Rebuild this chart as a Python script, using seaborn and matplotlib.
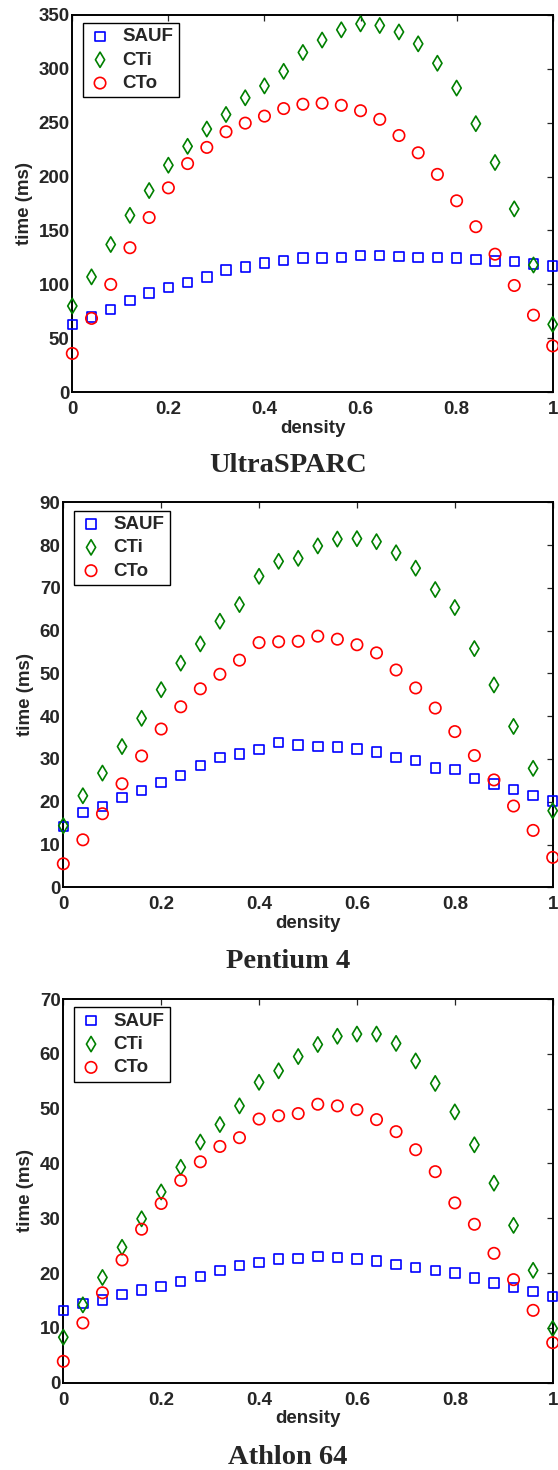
import numpy as np
import matplotlib
matplotlib.use("Agg")
import matplotlib.pyplot as plt
import seaborn as sns

density = [0.00, 0.04, 0.08, 0.12, 0.16, 0.20, 0.24, 0.28, 0.32, 0.36, 0.40, 0.44, 0.48,
           0.52, 0.56, 0.60, 0.64, 0.68, 0.72, 0.76, 0.80, 0.84, 0.88, 0.92, 0.96, 1.00]

# UltraSPARC
us_sauf = [63, 70, 77, 85, 92, 97, 102, 107, 113.5, 116, 120, 122, 124.5,
           124.5, 125, 127, 127, 126, 125, 125, 124.5, 123, 121.5, 121, 119, 117]
us_cti = [80, 107, 137, 164, 187, 210.5, 228, 244, 257.5, 273, 284, 297.5, 315,
          326.5, 336, 341.5, 340, 334, 323, 305, 282, 249, 213, 170, 118, 63]
us_cto = [36, 68.5, 100, 134, 162, 189.5, 212, 227, 241.5, 249.5, 256, 263, 267,
          268, 266, 261, 253, 238, 222, 202, 177.5, 153.5, 128, 99, 71.5, 43]

# Pentium 4
p4_sauf = [14.2, 17.5, 18.9, 21.0, 22.6, 24.5, 26.2, 28.5, 30.3, 31.2, 32.2, 33.8, 33.3,
           32.9, 32.8, 32.3, 31.6, 30.3, 29.6, 27.9, 27.5, 25.4, 24.1, 22.8, 21.4, 20.2]
p4_cti = [14.4, 21.4, 26.7, 32.9, 39.5, 46.2, 52.4, 56.9, 62.2, 66.1, 72.7, 76.2, 76.9,
          79.8, 81.4, 81.5, 80.8, 78.2, 74.6, 69.6, 65.4, 55.8, 47.3, 37.6, 27.8, 17.9]
p4_cto = [5.5, 11.1, 17.2, 24.2, 30.7, 37.0, 42.2, 46.4, 49.8, 53.1, 57.2, 57.4, 57.5,
          58.7, 58.0, 56.7, 54.8, 50.8, 46.6, 41.9, 36.4, 30.8, 25.1, 19.0, 13.3, 7.0]

# Athlon 64
a64_sauf = [13.2, 14.4, 15.1, 16.1, 16.9, 17.5, 18.5, 19.4, 20.5, 21.4, 21.9, 22.6, 22.7,
            23.0, 22.8, 22.6, 22.2, 21.6, 21.0, 20.5, 20.0, 19.1, 18.2, 17.4, 16.6, 15.7]
a64_cti = [8.3, 14.2, 19.2, 24.7, 29.9, 34.8, 39.3, 43.9, 47.1, 50.5, 54.8, 56.9, 59.5,
           61.7, 63.2, 63.6, 63.6, 61.9, 58.7, 54.6, 49.4, 43.4, 36.4, 28.7, 20.5, 9.9]
a64_cto = [3.9, 10.9, 16.4, 22.4, 28.0, 32.7, 36.9, 40.3, 43.1, 44.7, 48.1, 48.7, 49.1,
           50.8, 50.5, 49.8, 48.0, 45.8, 42.5, 38.5, 32.8, 28.9, 23.6, 18.8, 13.2, 7.3]

series_names = ["SAUF", "CTi", "CTo"]
titles = ["UltraSPARC", "Pentium 4", "Athlon 64"]
ymax = [350, 90, 70]
ystep = [50, 10, 10]
xticks = [0, 0.2, 0.4, 0.6, 0.8, 1.0]
xticklabels = ["0", "0.2", "0.4", "0.6", "0.8", "1"]

sns.set_style("white")
plt.rcParams["font.family"] = ["Liberation Sans", "DejaVu Sans"]
plt.rcParams["font.weight"] = "bold"

W, H = 558, 1470
fig = plt.figure(figsize=(W / 100, H / 100), dpi=100)

# axes boxes in pixels: left, top, right, bottom
boxes = [(72.3, 14.7, 552.7, 392.3), (63.3, 502.3, 552.7, 887.3), (63.3, 999, 552.7, 1382.7)]
title_y = [465, 962, 1457]

styles = [("s", "#0000ff", 6.8), ("d", "#008000", 7.8), ("o", "#ff0000", 8.2)]
data = [[us_sauf, us_cti, us_cto], [p4_sauf, p4_cti, p4_cto], [a64_sauf, a64_cti, a64_cto]]

for i in range(3):
    l, t, r, b = boxes[i]
    ax = fig.add_axes([l / W, 1 - b / H, (r - l) / W, (b - t) / H])
    for name, vals, (mk, col, ms) in zip(series_names, data[i], styles):
        sns.scatterplot(x=density, y=vals, ax=ax, marker=mk, s=ms ** 2,
                        facecolor="none", edgecolor=col, linewidth=1.2,
                        label=name, clip_on=False, zorder=3)
    ax.set_xlim(0, 1)
    ax.set_ylim(0, ymax[i])
    ax.set_xticks(xticks)
    ax.set_xticklabels(xticklabels)
    ax.set_yticks(np.arange(0, ymax[i] + 1, ystep[i]))
    ax.tick_params(direction="in", length=4.5, width=0.9, top=True, right=True,
                   labelsize=13.5, pad=2)
    ax.tick_params(axis="x", pad=6.5)
    for lab in ax.get_xticklabels() + ax.get_yticklabels():
        lab.set_fontweight("bold")
    for sp in ax.spines.values():
        sp.set_linewidth(1.4)
        sp.set_color("black")
    ax.set_xlabel("density", fontsize=13.5, fontweight="bold", labelpad=1)
    ax.set_ylabel("time (ms)", fontsize=13.5, fontweight="bold", labelpad=4)
    leg = ax.legend(loc="upper left", bbox_to_anchor=(10.3 / (r - l), 1 - 8.3 / (b - t)),
                    borderaxespad=0, fancybox=False, frameon=True, edgecolor="black",
                    prop={"size": 13.5, "weight": "bold"}, handlelength=1.3,
                    handletextpad=0.55, labelspacing=0.33, borderpad=0.28)
    leg.get_frame().set_linewidth(1.0)
    leg.get_frame().set_alpha(None)
    leg.get_frame().set_facecolor("white")
    fig.text(288 / W, 1 - title_y[i] / H, titles[i], ha="center", va="center",
             fontsize=20.5, fontweight="bold", family=["Liberation Serif", "DejaVu Serif"])

fig.savefig("out.png", dpi=100)
